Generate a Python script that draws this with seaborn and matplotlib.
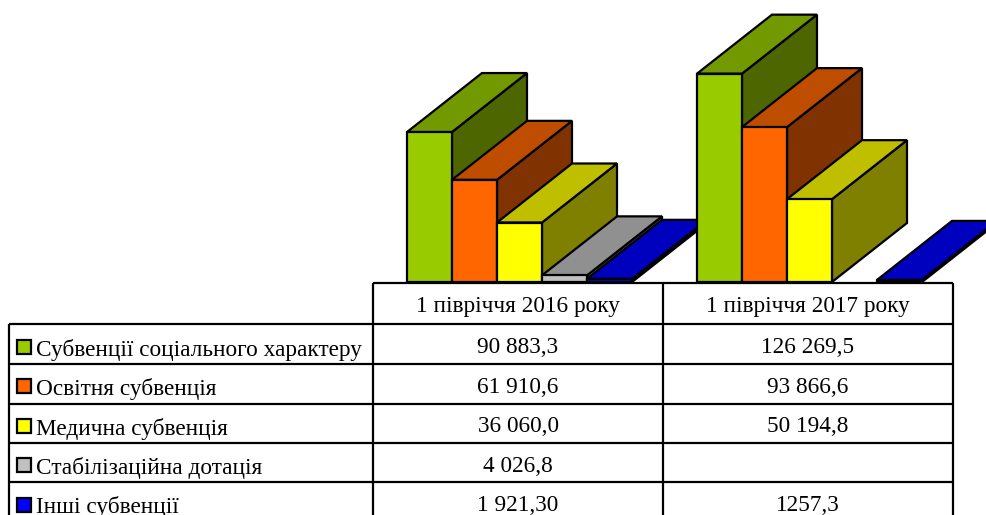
import numpy as np
import pandas as pd
import matplotlib
matplotlib.use('Agg')
import matplotlib.pyplot as plt
import seaborn as sns
from matplotlib.colors import to_rgb
from matplotlib.patches import Polygon, Rectangle

periods = ['1 півріччя 2016 року', '1 півріччя 2017 року']
series_names = ['Субвенції соціального характеру', 'Освітня субвенція', 'Медична субвенція',
                'Стабілізаційна дотація', 'Інші субвенції']
social = [90883.3, 126269.5]
education = [61910.6, 93866.6]
medical = [36060.0, 50194.8]
stabilization = [4026.8, np.nan]
other = [1921.3, 1257.3]
series_colors = ['#99CC00', '#FF6600', '#FFFF00', '#C0C0C0', '#0000FF']

# table cells as printed in the source
cells_2016 = ['90 883,3', '61 910,6', '36 060,0', '4 026,8', '1 921,30']
cells_2017 = ['126 269,5', '93 866,6', '50 194,8', '', '1257,3']

W, H = 987, 515
BASE_Y = 282
PX_PER_UNIT = 1.65 / 1000
DEPTH_PX = (75, 59)
LW = 1.6

plt.rcParams['font.family'] = ['Liberation Serif', 'DejaVu Serif']

df = pd.DataFrame({
    'period': periods * 5,
    'series': np.repeat(series_names, 2),
    'value': social + education + medical + stabilization + other,
})

fig = plt.figure(figsize=(W / 100, H / 100), dpi=100)
ax = fig.add_axes([374.5 / W, (H - BASE_Y) / H, 580 / W, BASE_Y / H])
sns.barplot(data=df, x='period', y='value', hue='series', hue_order=series_names,
            palette=series_colors, saturation=1, width=0.776, gap=0, legend=False, ax=ax)
ax.set_xlim(-0.5, 1.5)
ax.set_ylim(0, BASE_Y / PX_PER_UNIT)
ax.axis('off')


def shade(color, k):
    return tuple(c * k for c in to_rgb(color))


# extrude the seaborn bars into the fake 3D boxes
dx = DEPTH_PX[0] * 2 / 580
dy = DEPTH_PX[1] / PX_PER_UNIT
bars = [p for p in ax.patches if np.isfinite(p.get_height()) and p.get_height() > 0]
bars = sorted(bars, key=lambda p: p.get_x())
for i, bar in enumerate(bars):
    x0, w, h = bar.get_x(), bar.get_width(), bar.get_height()
    color = bar.get_facecolor()
    z = 3 + i
    side = [(x0 + w, 0), (x0 + w + dx, dy), (x0 + w + dx, h + dy), (x0 + w, h)]
    top = [(x0, h), (x0 + dx, h + dy), (x0 + w + dx, h + dy), (x0 + w, h)]
    ax.add_patch(Polygon(side, closed=True, fc=shade(color, 0.5), ec='black', lw=LW,
                         joinstyle='miter', zorder=z, clip_on=False))
    ax.add_patch(Polygon(top, closed=True, fc=shade(color, 0.75), ec='black', lw=LW,
                         joinstyle='miter', zorder=z, clip_on=False))
    bar.set_edgecolor('black')
    bar.set_linewidth(LW)
    bar.set_zorder(z + 0.5)
    bar.set_clip_on(False)

# data table on a pixel overlay
tab = fig.add_axes([0, 0, 1, 1], facecolor='none')
tab.set_xlim(0, W)
tab.set_ylim(H, 0)
tab.axis('off')

row_lines = [324, 364, 404, 443, 482]
tab.hlines(283, 373, 953, color='black', lw=LW)
tab.hlines(row_lines, 9, 953, color='black', lw=LW)
tab.vlines(9, 324, H, color='black', lw=LW)
tab.vlines([373, 663, 953], 283, H, color='black', lw=LW)

FS = 16.75
tab.text(518, 312, periods[0], ha='center', va='baseline', fontsize=FS)
tab.text(808, 312, periods[1], ha='center', va='baseline', fontsize=FS)

label_base = [356, 395, 435, 474, 513]
value_base = [353, 393, 432, 472, 511]
key_top = [340, 379, 419, 458, 498]
for name, color, lb, vb, kt, a, b in zip(series_names, series_colors, label_base, value_base,
                                         key_top, cells_2016, cells_2017):
    tab.add_patch(Rectangle((17, kt), 14, 14, fc=color, ec='black', lw=LW))
    tab.text(36, lb, name, ha='left', va='baseline', fontsize=FS)
    tab.text(518, vb, a, ha='center', va='baseline', fontsize=FS)
    tab.text(808, vb, b, ha='center', va='baseline', fontsize=FS)

fig.savefig('out.png', dpi=100)
